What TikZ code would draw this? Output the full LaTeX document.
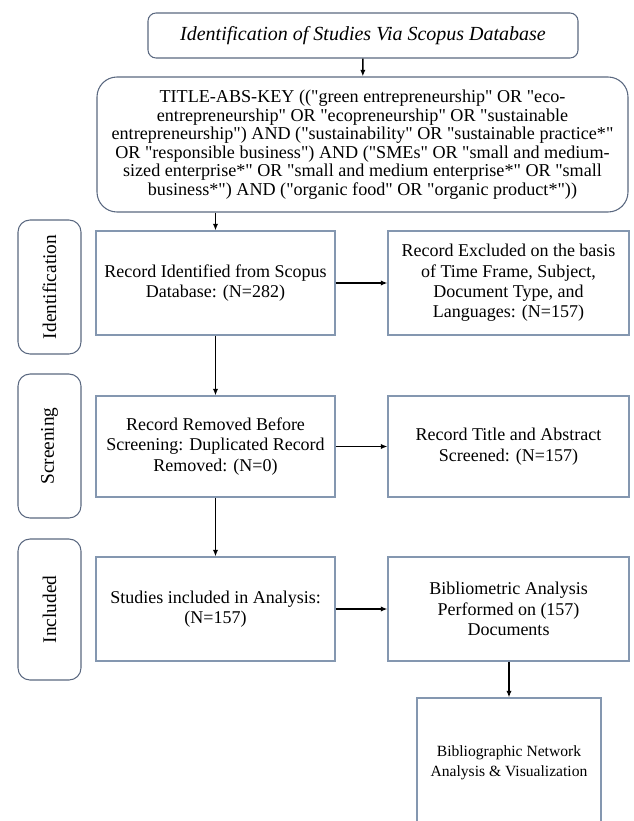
\documentclass[tikz,border=0pt]{standalone}
\usepackage{fontspec}
\setmainfont{Liberation Serif}
\newfontfamily\queryfont{Liberation Serif}
\usetikzlibrary{arrows.meta}
\definecolor{boxline}{RGB}{132,151,176}
\definecolor{roundline}{RGB}{90,104,128}

\tikzset{
    flowbox/.style={draw=boxline, line width=0.8pt, align=center, inner sep=2pt,
        font=\fontsize{13.5}{15.3}\selectfont},
    roundbox/.style={draw=roundline, line width=0.8pt, align=center, inner sep=2pt},
    phase/.style={roundbox, rounded corners=9pt, rotate=90, minimum height=47.25pt,
        font=\fontsize{14.5}{16}\selectfont},
    flow/.style={-{Latex[length=5pt,width=4pt]}, line width=1.1pt}
}

\begin{document}
\begin{tikzpicture}[x=0.75pt,y=-0.75pt]
    \useasboundingbox (0,0) rectangle (634,821);
    \clip (0,0) rectangle (634,821);

    \node[roundbox, rounded corners=6pt, minimum width=322.5pt, minimum height=33.75pt,
        font=\fontsize{15}{17}\selectfont\itshape] (title) at (363,35.5)
        {Identification of Studies Via Scopus Database};
    \node[roundbox, rounded corners=15pt, minimum width=398.25pt, minimum height=101.25pt,
        font=\queryfont\fontsize{13.6}{13.9}\selectfont] (query) at (362.5,144.5)
        {TITLE-ABS-KEY (("green entrepreneurship" OR "eco-\\
        entrepreneurship" OR "ecopreneurship" OR "sustainable\\
        entrepreneurship") AND ("sustainability" OR "sustainable practice*"\\
        OR "responsible business") AND ("SMEs" OR "small and medium-\\
        sized enterprise*" OR "small and medium enterprise*" OR "small\\
        business*") AND ("organic food" OR "organic product*"))};

    % left column
    \node[flowbox, minimum width=179.25pt, minimum height=78pt] (identified) at (215.5,283)
        {Record Identified from Scopus\\Database: (N=282)};
    \node[flowbox, minimum width=179.25pt, minimum height=75.75pt] (removed) at (215.5,446.5)
        {Record Removed Before\\Screening: Duplicated Record\\Removed: (N=0)};
    \node[flowbox, minimum width=179.25pt, minimum height=78pt] (included) at (215.5,609)
        {Studies included in Analysis:\\(N=157)};

    % right column
    \node[flowbox, minimum width=180.75pt, minimum height=78pt] (excluded) at (508.5,283)
        {Record Excluded on the basis\\of Time Frame, Subject,\\Document Type, and\\Languages: (N=157)};
    \node[flowbox, minimum width=180.75pt, minimum height=75.75pt] (screened) at (508.5,446.5)
        {Record Title and Abstract\\Screened: (N=157)};
    \node[flowbox, minimum width=180.75pt, minimum height=78pt] (analysis) at (508.5,609)
        {Bibliometric Analysis\\Performed on (157)\\Documents};
    \node[flowbox, minimum width=138pt, minimum height=97.5pt,
        font=\fontsize{11.7}{15}\selectfont] (network) at (509,763)
        {Bibliographic Network\\Analysis \& Visualization};

    % phases
    \node[phase, minimum width=100.5pt] (identification) at (49.5,287) {Identification};
    \node[phase, minimum width=108pt] (screening) at (49.5,446) {Screening};
    \node[phase, minimum width=105.75pt] (inclusion) at (49.5,609.5) {Included};

    \draw[flow] (title) -- (query);
    \draw[flow] (query.south -| identified.north) -- (identified);
    \draw[flow] (identified) -- (excluded);
    \draw[flow] (identified) -- (removed);
    \draw[flow] (removed) -- (screened);
    \draw[flow] (removed) -- (included);
    \draw[flow] (included) -- (analysis);
    \draw[flow] (analysis.south -| network.north) -- (network);
\end{tikzpicture}
\end{document}
